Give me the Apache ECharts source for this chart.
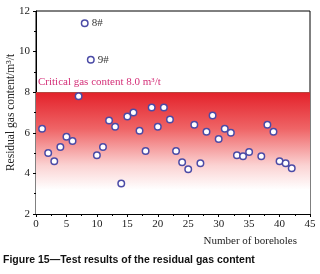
<!DOCTYPE html>
<html>
<head>
<meta charset="utf-8">
<script src="https://cdn.jsdelivr.net/npm/echarts@6/dist/echarts.min.js"></script>
<style>
  html, body { margin: 0; padding: 0; background: #fff; }
  #chart { width: 320px; height: 274px; }
</style>
</head>
<body>
<div id="chart"></div>
<script>
// borehole number and residual gas content (m3/t)
const boreholes = [1, 2, 3, 4, 5, 6, 7, 8, 9, 10, 11, 12, 13, 14, 15, 16, 17, 18, 19, 20, 21,
  22, 23, 24, 25, 26, 27, 28, 29, 30, 31, 32, 33, 34, 35, 37, 38, 39, 40, 41, 42];
const gasContent = [6.2, 5.0, 4.6, 5.3, 5.8, 5.6, 7.8, 11.4, 9.6, 4.9, 5.3, 6.6, 6.3, 3.5, 6.8, 7.0, 6.1, 5.1, 7.25, 6.3, 7.25,
  6.65, 5.1, 4.55, 4.2, 6.4, 4.5, 6.05, 6.85, 5.7, 6.2, 6.0, 4.9, 4.85, 5.05, 4.85, 6.4, 6.05, 4.6, 4.5, 4.25];
const labelled = { 8: '8#', 9: '9#' };
const criticalValue = 8.0;

const serif = '"Liberation Serif", "DejaVu Serif", serif';

const points = boreholes.map((b, i) => {
  const item = { value: [b, gasContent[i]] };
  if (labelled[b]) {
    item.label = { show: true, position: 'right', distance: 3, formatter: labelled[b] };
  }
  return item;
});

const chart = echarts.init(document.getElementById('chart'));
chart.setOption({
  animation: false,
  backgroundColor: '#fff',
  grid: {
    left: 36, right: 10, top: 11, bottom: 60,
    outerBoundsMode: 'none',
    containLabel: false,
    show: true, borderColor: '#000', borderWidth: 1
  },
  xAxis: {
    type: 'value',
    min: 0, max: 45, interval: 5,
    axisLine: { lineStyle: { color: '#000', width: 1 } },
    axisTick: { length: 3, lineStyle: { color: '#000' } },
    minorTick: { show: true, splitNumber: 2, length: 2, lineStyle: { color: '#000' } },
    axisLabel: { color: '#222', fontFamily: serif, fontSize: 11, margin: 5 },
    splitLine: { show: false }
  },
  yAxis: {
    type: 'value',
    min: 2, max: 12, interval: 2,
    name: 'Residual gas content/m³/t',
    nameLocation: 'middle',
    nameGap: 19,
    nameMoveOverlap: false,
    nameTextStyle: { color: '#222', fontFamily: serif, fontSize: 11.5 },
    axisLine: { lineStyle: { color: '#000', width: 1 } },
    axisTick: { length: 3, lineStyle: { color: '#000' } },
    minorTick: { show: true, splitNumber: 2, length: 2, lineStyle: { color: '#000' } },
    axisLabel: { color: '#222', fontFamily: serif, fontSize: 11, margin: 6 },
    splitLine: { show: false }
  },
  series: [
    {
      type: 'scatter',
      data: points,
      symbol: 'circle',
      symbolSize: 6.5,
      itemStyle: { color: '#fff', borderColor: '#4b4ba6', borderWidth: 1.5, opacity: 1 },
      label: { color: '#333', fontFamily: serif, fontSize: 11 },
      z: 5,
      markArea: {
        silent: true,
        itemStyle: {
          color: new echarts.graphic.LinearGradient(0, 0, 0, 1, [
            { offset: 0, color: '#e3212a' },
            { offset: 0.3, color: '#ef6466' },
            { offset: 0.6, color: '#fbd2d2' },
            { offset: 0.8, color: '#ffffff' }
          ])
        },
        data: [[{ yAxis: criticalValue }, { yAxis: 2 }]]
      },
      markLine: {
        silent: true,
        symbol: 'none',
        label: { show: false },
        lineStyle: { color: '#b5473f', type: 'solid', width: 1 },
        data: [{ yAxis: criticalValue }]
      }
    }
  ],
  graphic: [
    {
      type: 'text', left: 38, top: 77,
      style: { text: 'Critical gas content 8.0 m³/t', fill: '#d42f78', font: '11px ' + serif }
    },
    {
      type: 'text', right: 23, top: 236,
      style: { text: 'Number of boreholes', fill: '#222', font: '11px ' + serif }
    },
    {
      type: 'text', left: 3, top: 255,
      style: { text: 'Figure 15—Test results of the residual gas content', fill: '#111', font: 'bold 10.5px "Liberation Sans", Arial, sans-serif' }
    }
  ]
});
</script>
</body>
</html>
